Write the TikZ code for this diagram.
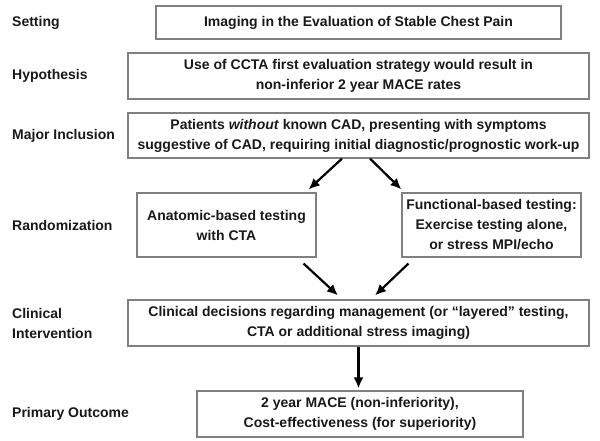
\documentclass[tikz,border=0pt]{standalone}
\usepackage{fontspec}
\setmainfont{Liberation Sans}
\usetikzlibrary{arrows.meta, positioning}

\begin{document}
\begin{tikzpicture}[
    x=1pt, y=-1pt, % one unit is one pixel of the figure, y downwards
    >=Latex,
    % Styles
    box/.style={ % Study design box
        rectangle,
        draw=black!50,
        line width=1.2pt,
        align=center,
        inner sep=0pt,
        text=black!90,
        font=\bfseries\fontsize{14}{20}\selectfont
    },
    rowlabel/.style={ % Row heading on the left
        anchor=west,
        align=left,
        inner sep=0pt,
        text=black!90,
        font=\bfseries\fontsize{14}{20}\selectfont
    },
    arrow/.style={
        -{Latex[length=11pt,width=10pt]},
        line width=2.2pt
    }
]
    % Page
    \fill[white] (0,0) rectangle (600,440);

    % Design boxes
    \node[box, minimum width=405pt, minimum height=33pt] (setting) at (358.5,22.5)
        {Imaging in the Evaluation of Stable Chest Pain};
    \node[box, minimum width=461pt, minimum height=46pt] (hypo) at (358.5,76)
        {Use of CCTA first evaluation strategy would result in\\non-inferior 2 year MACE rates};
    \node[box, minimum width=461pt, minimum height=45pt] (incl) at (358.5,135.5)
        {Patients \textit{without} known CAD, presenting with symptoms\\suggestive of CAD, requiring initial diagnostic/prognostic work-up};
    \node[box, minimum width=179pt, minimum height=64pt] (anat) at (226.5,225)
        {Anatomic-based testing\\with CTA};
    \node[box, minimum width=179pt, minimum height=64pt] (func) at (491.5,225)
        {Functional-based testing:\\Exercise testing alone,\\or stress MPI/echo};
    \node[box, minimum width=461pt, minimum height=46pt] (clin) at (358.5,323)
        {Clinical decisions regarding management (or “layered” testing,\\CTA or additional stress imaging)};
    \node[box, minimum width=326pt, minimum height=46pt] (outc) at (360,414)
        {2 year MACE (non-inferiority),\\Cost-effectiveness (for superiority)};

    % Row headings
    \node[rowlabel] (lsetting) at (12,22.5) {Setting};
    \node[rowlabel] (lhypo) at (12,76) {Hypothesis};
    \node[rowlabel] (lincl) at (12,135.5) {Major Inclusion};
    \node[rowlabel] (lrand) at (12,225) {Randomization};
    \node[rowlabel] (lclin) at (12,323) {Clinical\\Intervention};
    \node[rowlabel] (loutc) at (12,414) {Primary Outcome};

    % Flow arrows
    \draw[arrow] ([xshift=-16.5pt]incl.south) -- ([xshift=-8pt,yshift=3pt]anat.north east);
    \draw[arrow] ([xshift=11.5pt]incl.south) -- ([yshift=3pt]func.north west);
    \draw[arrow] ([xshift=-13pt,yshift=-6pt]anat.south east) -- ([xshift=-20.5pt,yshift=4pt]clin.north);
    \draw[arrow] ([xshift=7pt,yshift=-6pt]func.south west) -- ([xshift=16.5pt,yshift=4pt]clin.north);
    \draw[arrow, shorten >=2pt] (clin.south) -- (clin.south |- outc.north);
\end{tikzpicture}
\end{document}
